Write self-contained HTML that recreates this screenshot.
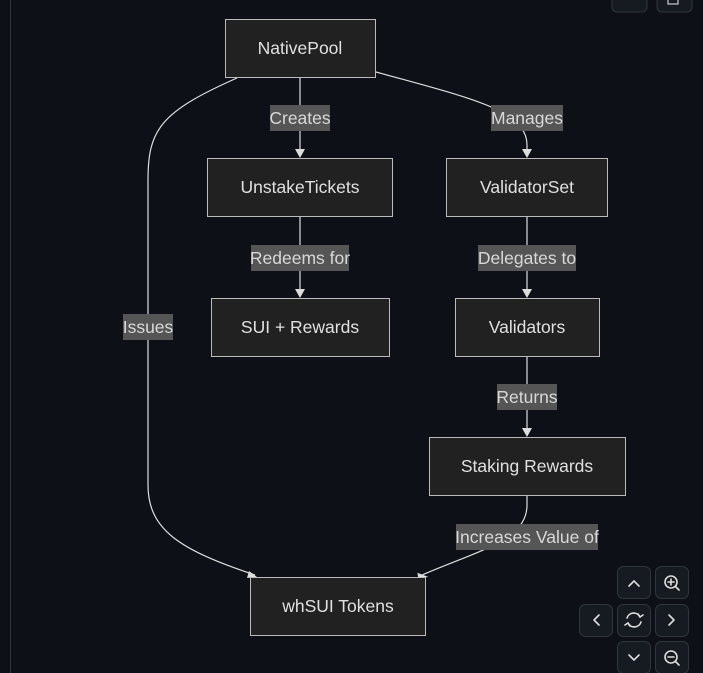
<!DOCTYPE html>
<html><head><meta charset="utf-8"><style>
html,body{margin:0;padding:0;background:#0d1117;width:703px;height:673px;overflow:hidden}
svg{display:block}
text{font-family:"Liberation Sans",sans-serif;}
</style></head><body>
<svg width="703" height="673" viewBox="0 0 703 673" xmlns="http://www.w3.org/2000/svg">
<rect width="703" height="673" fill="#0d1117"/>
<line x1="10.5" y1="0" x2="10.5" y2="673" stroke="#30363d" stroke-width="1"/>
<rect x="612" y="-10" width="35" height="22" rx="5" fill="#161b22" stroke="#30363d"/>
<rect x="657" y="-10" width="35" height="22" rx="5" fill="#161b22" stroke="#30363d"/>
<rect x="668" y="-4" width="10" height="8" fill="none" stroke="#ccc" stroke-width="1.2"/>

<g fill="none" stroke="#ddd" stroke-width="1.2">
<path d="M300,78 L300,156"/>
<path d="M300,217 L300,296"/>
<path d="M527,217 L527,296"/>
<path d="M527,357 L527,435"/>
<path d="M237,78 C160,112 148,130 148,180 L148,485 C148,530 180,550 255,575"/>
<path d="M376,72 C470,98 527,110 527,145 L527,156"/>
<path d="M527,496 L527,505 C527,540 480,550 422,575"/>
</g>
<g fill="#ddd">
<path d="M295,149 L305,149 L300,158 z"/>
<path d="M295,289 L305,289 L300,298 z"/>
<path d="M522,149 L532,149 L527,158 z"/>
<path d="M522,289 L532,289 L527,298 z"/>
<path d="M522,428 L532,428 L527,437 z"/>
<path d="M249,571 L257,577 L247,578 z"/>
<path d="M418,572 L428,578 L418,578 z" transform="rotate(-10 422 576)"/>
</g>

<g fill="#212121" stroke="#bbb" stroke-width="1">
<rect x="225.5" y="19.5" width="150" height="58"/>
<rect x="207.5" y="158.5" width="185" height="58"/>
<rect x="446.5" y="158.5" width="161" height="58"/>
<rect x="211.5" y="298.5" width="178" height="58"/>
<rect x="455.5" y="298.5" width="144" height="58"/>
<rect x="429.5" y="437.5" width="196" height="58"/>
<rect x="250.5" y="577.5" width="175" height="58"/>
</g>
<g fill="#e0e0e0" font-size="17.5" text-anchor="middle">
<text x="300" y="54">NativePool</text>
<text x="300" y="193">UnstakeTickets</text>
<text x="527" y="193">ValidatorSet</text>
<text x="300" y="333">SUI + Rewards</text>
<text x="527" y="333">Validators</text>
<text x="527" y="472">Staking Rewards</text>
<text x="338" y="612">whSUI Tokens</text>
</g>
<g fill="#555">
<rect x="270" y="105" width="60" height="26"/>
<rect x="491" y="105" width="72" height="26"/>
<rect x="251" y="245" width="98" height="26"/>
<rect x="478" y="245" width="98" height="26"/>
<rect x="123" y="314" width="50" height="26"/>
<rect x="497" y="384" width="60" height="26"/>
<rect x="456" y="524" width="142" height="26"/>
</g>
<g fill="#d8d8d8" font-size="17.5" text-anchor="middle">
<text x="300" y="124">Creates</text>
<text x="527" y="124">Manages</text>
<text x="300" y="264">Redeems for</text>
<text x="527" y="264">Delegates to</text>
<text x="148" y="333">Issues</text>
<text x="527" y="403">Returns</text>
<text x="527" y="543">Increases Value of</text>
</g>

<g fill="#161b22" stroke="#30363d">
<rect x="617.5" y="566.5" width="33" height="32" rx="6"/>
<rect x="655.5" y="566.5" width="33" height="32" rx="6"/>
<rect x="579.5" y="604.5" width="33" height="32" rx="6"/>
<rect x="617.5" y="604.5" width="33" height="32" rx="6"/>
<rect x="655.5" y="604.5" width="33" height="32" rx="6"/>
<rect x="617.5" y="641.5" width="33" height="32" rx="6"/>
<rect x="655.5" y="641.5" width="33" height="32" rx="6"/>
</g>
<g fill="none" stroke="#ddd" stroke-width="1.6" stroke-linecap="round" stroke-linejoin="round">
<path d="M629,586 L634,581 L639,586"/>
<path d="M599,615 L594,620 L599,625"/>
<path d="M669,615 L674,620 L669,625"/>
<path d="M629,655 L634,660 L639,655"/>
<circle cx="671" cy="582" r="6"/><path d="M675.5,586.5 L679,590 M668,582 L674,582 M671,579 L671,585"/>
<circle cx="671" cy="657" r="6"/><path d="M675.5,661.5 L679,665 M668,657 L674,657"/>
<path d="M627,618 A7,7 0 0 1 640,617 M641,622 A7,7 0 0 1 628,623"/>
<path d="M638,614 L640,617 L643,615 M630,626 L628,623 L625,625"/>
</g>
</svg>
</body></html>
